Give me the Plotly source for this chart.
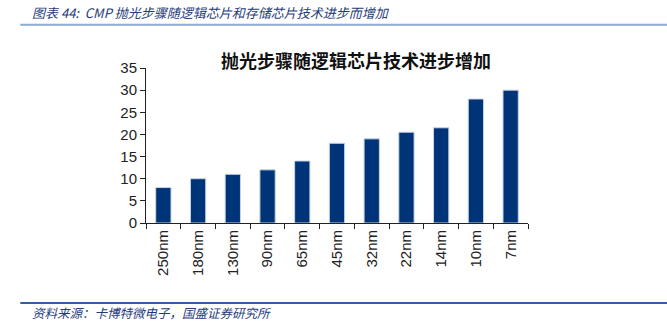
import plotly.graph_objects as go

categories = ["250nm", "180nm", "130nm", "90nm", "65nm", "45nm", "32nm", "22nm", "14nm", "10nm", "7nm"]
steps = [8, 10, 11, 12, 14, 18, 19, 20.5, 21.5, 28, 30]
y_ticks = [0, 5, 10, 15, 20, 25, 30, 35]

W, H = 667, 324
L, R, T, B = 145.7, 527.7, 67.7, 222.7


def px(x):
    return (x - L) / (R - L)


def py(y):
    return (B - y) / (B - T)


fig = go.Figure(go.Bar(
    x=categories, y=steps,
    marker=dict(color="#003478", line=dict(color="#c9d2e3", width=1)),
    width=0.44,
))

fig.update_layout(
    width=W, height=H,
    margin=dict(l=L, r=W - R, t=T, b=H - B, autoexpand=False),
    paper_bgcolor="white", plot_bgcolor="white",
    showlegend=False,
    font=dict(family="Liberation Sans, Arial", color="#222222"),
)
fig.update_xaxes(
    type="category", showline=True, linecolor="#222222", linewidth=1,
    ticks="outside", tickson="boundaries", ticklen=5, tickcolor="#222222",
    tickangle=-90, tickfont=dict(size=15, family="Liberation Sans, Arial", color="#222222"),
    showgrid=False, zeroline=False,
)
fig.update_yaxes(
    range=[0, 35], tickvals=y_ticks, showline=True, linecolor="#222222", linewidth=1,
    ticks="outside", ticklen=5, tickcolor="#222222",
    tickfont=dict(size=15, family="Liberation Sans, Arial", color="#222222"),
    showgrid=False, zeroline=False,
)

fig.add_annotation(text="<b>抛光步骤随逻辑芯片技术进步增加</b>", x=px(356), y=py(60),
                   xref="paper", yref="paper", showarrow=False, xanchor="center", yanchor="middle",
                   font=dict(size=18, family="Noto Sans CJK SC", color="#111111"))
fig.add_annotation(text="<i>图表 44:  CMP 抛光步骤随逻辑芯片和存储芯片技术进步而增加</i>", x=px(30), y=py(12),
                   xref="paper", yref="paper", showarrow=False, xanchor="left", yanchor="middle",
                   font=dict(size=13, family="Noto Sans CJK SC", color="#1f3c7c"))
fig.add_annotation(text="<i>资料来源：卡博特微电子，国盛证券研究所</i>", x=px(30), y=py(312),
                   xref="paper", yref="paper", showarrow=False, xanchor="left", yanchor="middle",
                   font=dict(size=12.5, family="Noto Sans CJK SC", color="#1f3c7c"))
fig.add_shape(type="line", xref="paper", yref="paper", x0=px(20), x1=px(667), y0=py(24.5), y1=py(24.5),
              line=dict(color="#8eaad6", width=2))
fig.add_shape(type="line", xref="paper", yref="paper", x0=px(20), x1=px(667), y0=py(302.7), y1=py(302.7),
              line=dict(color="#2e5fa8", width=2))

fig.write_html("out.html")
